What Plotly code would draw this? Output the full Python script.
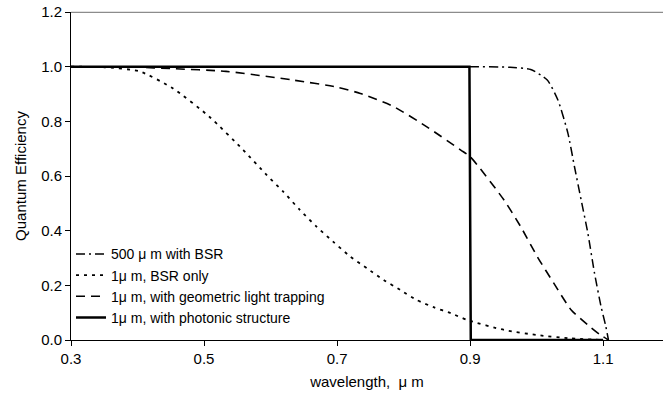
import plotly.graph_objects as go

# wavelength (um) / quantum efficiency
wl_500 = [0.30, 0.50, 0.70, 0.90, 0.96, 0.991, 1.016, 1.032, 1.047, 1.057, 1.067, 1.077, 1.087, 1.097, 1.104, 1.108]
qe_500 = [1.0, 1.0, 1.0, 1.0, 0.998, 0.99, 0.951, 0.878, 0.757, 0.633, 0.512, 0.391, 0.245, 0.121, 0.05, 0.0]

wl_bsr = [0.30, 0.35, 0.403, 0.453, 0.508, 0.559, 0.594, 0.619, 0.644, 0.669, 0.694, 0.720, 0.745, 0.770,
          0.795, 0.820, 0.845, 0.871, 0.896, 0.951, 1.001, 1.05, 1.10]
qe_bsr = [1.0, 0.998, 0.983, 0.921, 0.817, 0.695, 0.604, 0.543, 0.476, 0.415, 0.360, 0.305, 0.262, 0.220,
          0.183, 0.146, 0.120, 0.098, 0.073, 0.037, 0.018, 0.006, 0.0]

wl_geo = [0.30, 0.40, 0.45, 0.533, 0.634, 0.70, 0.735, 0.785, 0.835, 0.886, 0.90, 0.951, 0.976, 1.001, 1.026,
          1.052, 1.077, 1.095, 1.108]
qe_geo = [1.0, 0.998, 0.993, 0.983, 0.951, 0.925, 0.902, 0.854, 0.780, 0.695, 0.671, 0.512, 0.415, 0.305, 0.207,
          0.110, 0.055, 0.02, 0.0]

wl_ph = [0.30, 0.899, 0.901, 1.10]
qe_ph = [1.0, 1.0, 0.0, 0.0]

series = [
    ("500 \u03bc m with BSR", wl_500, qe_500, "9px,4px,2px,4px", 1.5),
    ("1\u03bc m, BSR only", wl_bsr, qe_bsr, "3px,5px", 1.8),
    ("1\u03bc m, with geometric light trapping", wl_geo, qe_geo, "9px,6px", 1.6),
    ("1\u03bc m, with photonic structure", wl_ph, qe_ph, "solid", 2.5),
]

fig = go.Figure()
for name, x, y, dash, w in series:
    if dash == "solid":
        line = dict(color="black", width=w)
    else:
        line = dict(color="black", width=w, dash=dash, shape="spline", smoothing=0.6)
    fig.add_trace(go.Scatter(x=x, y=y, mode="lines", name=name, line=line))

# thin grey top border of the plot area
fig.add_shape(type="line", xref="paper", yref="paper", x0=0, x1=1, y0=0.999, y1=0.999,
              line=dict(color="#8c8c8c", width=1.2), layer="above")

fig.update_layout(
    width=663, height=410,
    margin=dict(l=71, r=0, t=12, b=70),
    plot_bgcolor="white", paper_bgcolor="white",
    font=dict(family="Liberation Sans, Arial", size=15, color="black"),
    showlegend=True,
    legend=dict(x=0.0, y=0.31, xanchor="left", yanchor="top", bgcolor="rgba(0,0,0,0)",
                font=dict(size=14), tracegroupgap=0, itemwidth=30),
    xaxis=dict(range=[0.3, 1.19], tick0=0.3, dtick=0.2, tickformat=".1f", showgrid=False, zeroline=False,
               showline=True, linecolor="black", linewidth=1, ticks="outside", ticklen=5, tickcolor="black",
               title=dict(text="wavelength,  \u03bc m", font=dict(size=15), standoff=10)),
    yaxis=dict(range=[0, 1.2001], dtick=0.2, tickformat=".1f", showgrid=False, zeroline=False,
               showline=True, linecolor="black", linewidth=1, ticks="outside", ticklen=5, tickcolor="black",
               title=dict(text="Quantum Efficiency", font=dict(size=15), standoff=10)),
)

# drop the default 8px page margin so the figure sits at the window's corner
fig.write_html("out.html", post_script="document.body.style.margin='0';",
               config={"displayModeBar": False})
